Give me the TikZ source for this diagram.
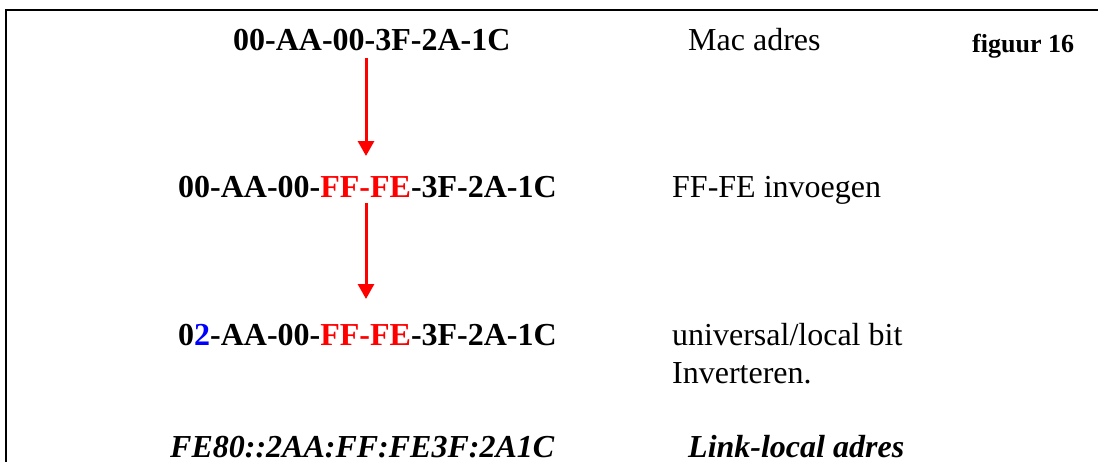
\documentclass[tikz,border=0pt]{standalone}
\usepackage{fontspec}
\setmainfont{Liberation Serif}
\usetikzlibrary{arrows.meta}

\begin{document}
\begin{tikzpicture}[x=1pt,y=-1pt]
      \tikzset{adres/.style={anchor=base west, inner sep=0pt, font=\fontsize{32}{38}\selectfont\bfseries},
               uitleg/.style={anchor=base west, inner sep=0pt, align=left, font=\fontsize{32}{38}\selectfont},
               pijl/.style={draw=red, line width=3pt, -{Triangle[length=15pt,width=16pt]}}}
      \useasboundingbox (0,0) rectangle (1098,461);
%% Frame
      	\draw[line width=2.5pt] (6,470) -- (6,10) -- (1100,10);
%% Addresses
      	\node[adres] (mac) at (233,50) {00-AA-00-3F-2A-1C};
      	\node[adres] (ins) at (178,197) {00-AA-00-\textcolor{red}{FF-FE}-3F-2A-1C};
      	\node[adres] (inv) at (178,345) {0\textcolor{blue}{2}-AA-00-\textcolor{red}{FF-FE}-3F-2A-1C};
      	\node[adres, font=\fontsize{32}{38}\selectfont\bfseries\itshape] (ll) at (170,457) {FE80::2AA:FF:FE3F:2A1C};
%% Explanation
      	\node[uitleg] (macTxt) at (688,50) {Mac adres};
      	\node[adres, font=\fontsize{26}{30}\selectfont\bfseries] (fig) at (972,52) {figuur 16};
      	\node[uitleg] (insTxt) at (672,197) {FF-FE invoegen};
      	\node[uitleg] (invTxt) at (672,383) {universal/local bit\\Inverteren.};
      	\node[uitleg, font=\fontsize{32}{38}\selectfont\bfseries\itshape] (llTxt) at (688,457) {Link-local adres};
%Arrows
      	\coordinate (p1) at (366,58);
      	\coordinate (q1) at (366,156);
      	\coordinate (p2) at (366,203);
      	\coordinate (q2) at (366,299);
		\draw[pijl] (p1) -- (q1);
		\draw[pijl] (p2) -- (q2);
	\end{tikzpicture}
\end{document}
